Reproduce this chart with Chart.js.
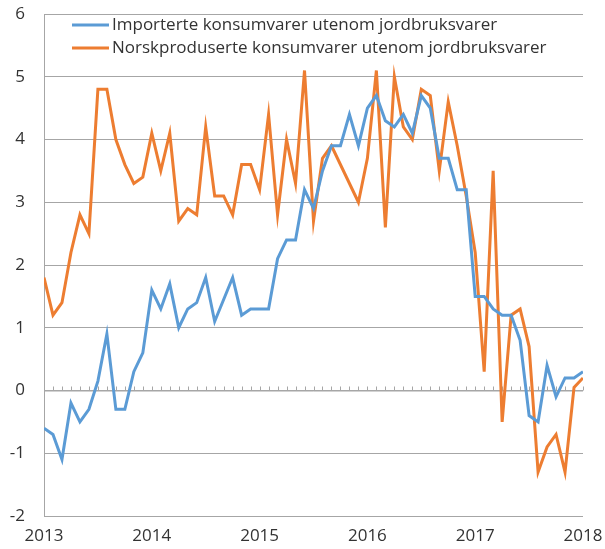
<!DOCTYPE html>
<html>
<head>
<meta charset="utf-8">
<script src="https://cdn.jsdelivr.net/npm/chart.js@4"></script>
<style>
    html, body { margin: 0; padding: 0; background: #fff; }
    #wrap { width: 605px; height: 549px; }
</style>
</head>
<body>
<div id="wrap"><canvas id="chart" width="605" height="549"></canvas></div>
<script>
// Monthly, Jan 2013 .. Jan 2018 (61 points)
const startYear = 2013;
const yearTicks = [2013, 2014, 2015, 2016, 2017, 2018];
const seriesNames = [
    'Importerte konsumvarer utenom jordbruksvarer',
    'Norskproduserte konsumvarer utenom jordbruksvarer'
];

const importerte = [
    -0.6, -0.7, -1.1, -0.2, -0.5, -0.3, 0.15, 0.9, -0.3, -0.3, 0.3, 0.6,
    1.6, 1.3, 1.7, 1.0, 1.3, 1.4, 1.8, 1.1, 1.45, 1.8, 1.2, 1.3,
    1.3, 1.3, 2.1, 2.4, 2.4, 3.2, 2.9, 3.5, 3.9, 3.9, 4.4, 3.9,
    4.5, 4.7, 4.3, 4.2, 4.4, 4.1, 4.7, 4.5, 3.7, 3.7, 3.2, 3.2,
    1.5, 1.5, 1.3, 1.2, 1.2, 0.8, -0.4, -0.5, 0.4, -0.1, 0.2, 0.2,
    0.3
];

const norskproduserte = [
    1.8, 1.2, 1.4, 2.2, 2.8, 2.5, 4.8, 4.8, 4.0, 3.6, 3.3, 3.4,
    4.1, 3.5, 4.1, 2.7, 2.9, 2.8, 4.2, 3.1, 3.1, 2.8, 3.6, 3.6,
    3.2, 4.4, 2.8, 4.0, 3.3, 5.1, 2.7, 3.7, 3.9, null, null, 3.0,
    3.7, 5.1, 2.6, 5.0, 4.2, 4.0, 4.8, 4.7, 3.5, 4.6, 3.9, 3.1,
    2.2, 0.3, 3.5, -0.5, 1.2, 1.3, 0.7, -1.3, -0.9, -0.7, -1.3, 0.05,
    0.2
];

const blue = '#5b9bd5';
const orange = '#ed7d31';
const gridColor = '#a6a6a6';
const textColor = '#333333';
const fontFamily = '"Open Sans", "Noto Sans", sans-serif';
const fontSize = 17;

function toPoints(values) {
    return values.map((v, i) => ({ x: i, y: v }));
}

// Zero line with monthly tick marks
const zeroAxisPlugin = {
    id: 'zeroAxis',
    beforeDatasetsDraw(chart) {
        const ctx = chart.ctx;
        const xs = chart.scales.x;
        const y0 = chart.scales.y.getPixelForValue(0);
        ctx.save();
        ctx.strokeStyle = gridColor;
        ctx.lineWidth = 1;
        ctx.beginPath();
        ctx.moveTo(xs.left, y0 + 0.5);
        ctx.lineTo(xs.right, y0 + 0.5);
        for (let i = 0; i <= importerte.length - 1; i++) {
            const x = Math.round(xs.getPixelForValue(i)) + 0.5;
            ctx.moveTo(x, y0);
            ctx.lineTo(x, y0 - 4);
        }
        ctx.stroke();
        ctx.restore();
    }
};

// Legend drawn inside the plot area, top left
const insideLegendPlugin = {
    id: 'insideLegend',
    afterDraw(chart) {
        const ctx = chart.ctx;
        const area = chart.chartArea;
        const colors = [blue, orange];
        ctx.save();
        ctx.font = fontSize + 'px ' + fontFamily;
        ctx.textBaseline = 'middle';
        ctx.fillStyle = textColor;
        seriesNames.forEach((name, i) => {
            const y = area.top + 11 + i * 23;
            const x = area.left + 28;
            ctx.strokeStyle = colors[i];
            ctx.lineWidth = 3;
            ctx.beginPath();
            ctx.moveTo(x, y);
            ctx.lineTo(x + 37, y);
            ctx.stroke();
            ctx.fillText(name, x + 40, y);
        });
        ctx.restore();
    }
};

const ctx = document.getElementById('chart').getContext('2d');
new Chart(ctx, {
    type: 'line',
    data: {
        datasets: [
            {
                label: seriesNames[0],
                data: toPoints(importerte),
                borderColor: blue,
                backgroundColor: blue,
                borderWidth: 3,
                pointRadius: 0,
                tension: 0,
                spanGaps: true
            },
            {
                label: seriesNames[1],
                data: toPoints(norskproduserte),
                borderColor: orange,
                backgroundColor: orange,
                borderWidth: 3,
                pointRadius: 0,
                tension: 0,
                spanGaps: true
            }
        ]
    },
    options: {
        responsive: false,
        animation: false,
        layout: {
            padding: { top: 0, right: 0, left: 0, bottom: 0 }
        },
        plugins: {
            legend: { display: false },
            tooltip: { enabled: false }
        },
        scales: {
            x: {
                type: 'linear',
                min: 0,
                max: importerte.length - 1,
                grid: { display: false, drawTicks: false },
                border: { display: false },
                afterFit(scale) {
                    scale.height = 33;
                    scale.paddingRight = 22;
                },
                afterBuildTicks(scale) {
                    scale.ticks = yearTicks.map(y => ({ value: (y - startYear) * 12 }));
                },
                ticks: {
                    autoSkip: false,
                    maxRotation: 0,
                    padding: 10,
                    color: textColor,
                    font: { family: fontFamily, size: fontSize }
                    ,
                    callback: v => String(startYear + v / 12)
                }
            },
            y: {
                min: -2,
                max: 6,
                grid: { color: gridColor, drawTicks: false },
                border: { display: true, color: gridColor },
                afterFit(scale) {
                    scale.width = 44;
                    scale.paddingTop = 14;
                },
                ticks: {
                    stepSize: 1,
                    padding: 19,
                    color: textColor,
                    font: { family: fontFamily, size: fontSize }
                }
            }
        }
    },
    plugins: [zeroAxisPlugin, insideLegendPlugin]
});
</script>
</body>
</html>
